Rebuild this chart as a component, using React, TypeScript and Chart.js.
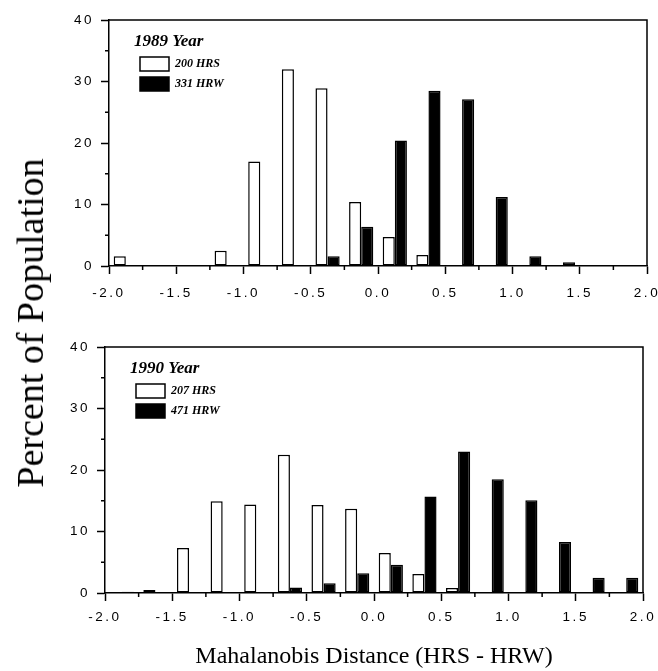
import React, { useEffect, useRef } from 'react';
import { Chart, registerables } from 'chart.js';

Chart.register(...registerables);

// ---- data ----
const binCenters = [-1.875, -1.625, -1.375, -1.125, -0.875, -0.625, -0.375, -0.125, 0.125, 0.375, 0.625, 0.875, 1.125, 1.375, 1.625, 1.875];
const hrs1989 = [1.6, 0, 0, 2.5, 17.0, 32.0, 28.9, 10.4, 4.7, 1.8, 0, 0, 0, 0, 0, 0];
const hrw1989 = [0, 0, 0, 0, 0.1, 0, 1.6, 6.4, 20.4, 28.5, 27.1, 11.2, 1.6, 0.6, 0, 0.15];
const hrs1990 = [0, 0.5, 7.3, 14.9, 14.4, 22.5, 14.3, 13.7, 6.5, 3.1, 0.8, 0, 0, 0, 0, 0];
const hrw1990 = [0.2, 0, 0, 0, 0, 0.9, 1.6, 3.2, 4.6, 15.7, 23.0, 18.5, 15.1, 8.3, 2.5, 2.5];

const xMin = -2;
const xMax = 2;
const xStep = 0.5;
const xMinorTicks = [-1.75, -1.25, -0.75, -0.25, 0.25, 0.75, 1.25, 1.75];
const yMin = 0;
const yMax = 40;
const yStep = 10;
const yMinorTicks = [5, 15, 25, 35];

const title1989 = '1989 Year';
const labels1989 = ['200 HRS', '331 HRW'];
const title1990 = '1990 Year';
const labels1990 = ['207 HRS', '471 HRW'];
const yTitle = 'Percent of Population';
const xTitle = 'Mahalanobis Distance (HRS - HRW)';

// ---- plugins ----
const framePlugin = {
  id: 'frameTicks',
  beforeDraw(chart: any) {
    chart.ctx.letterSpacing = '0px';
  },
  afterDatasetsDraw(chart: any) {
    chart.ctx.letterSpacing = '2.5px';
  },
  afterDraw(chart: any) {
    const ctx = chart.ctx;
    ctx.letterSpacing = '0px';
    const { left, right, top, bottom } = chart.chartArea;
    const xs = chart.scales.x;
    const ys = chart.scales.y;
    ctx.save();
    ctx.strokeStyle = '#000';
    ctx.lineWidth = 1.5;
    ctx.beginPath();
    ctx.moveTo(left, top);
    ctx.lineTo(right, top);
    ctx.lineTo(right, bottom);
    xMinorTicks.forEach((v) => {
      const px = xs.getPixelForValue(v);
      ctx.moveTo(px, bottom);
      ctx.lineTo(px, bottom + 4);
    });
    yMinorTicks.forEach((v) => {
      const py = ys.getPixelForValue(v);
      ctx.moveTo(left - 4, py);
      ctx.lineTo(left, py);
    });
    ctx.stroke();
    ctx.restore();
  },
};

const legendShift = {
  id: 'legendShift',
  afterLayout(chart: any, _args: any, opts: any) {
    const lg = chart.legend;
    if (!lg) return;
    const w = lg.width;
    const h = lg.height;
    lg.left = chart.chartArea.left + (opts.dx || 0);
    lg.top = chart.chartArea.top + (opts.dy || 0);
    lg.right = lg.left + w;
    lg.bottom = lg.top + h;
  },
};

function makeConfig(hrs: number[], hrw: number[], labels: string[], title: string, bottom: boolean) {
  const xTickFont = { family: 'Liberation Sans', size: 13.5, lineHeight: bottom ? 2.37 : 2.81 };
  const yTickFont = { family: 'Liberation Sans', size: 13.5 };
  return {
    type: 'bar',
    data: {
      datasets: [
        {
          label: labels[0],
          data: binCenters.map((x, i) => ({ x, y: hrs[i] })),
          backgroundColor: '#ffffff',
          borderColor: '#000000',
          borderWidth: 1.5,
          borderSkipped: false,
          categoryPercentage: 0.72,
          barPercentage: 1.0,
        },
        {
          label: labels[1],
          data: binCenters.map((x, i) => ({ x, y: hrw[i] })),
          backgroundColor: '#000000',
          borderColor: '#000000',
          borderWidth: 1.5,
          borderSkipped: false,
          categoryPercentage: 0.72,
          barPercentage: 1.0,
        },
      ],
    },
    options: {
      responsive: false,
      animation: false,
      events: [],
      layout: {
        padding: bottom ? { top: 27, right: 15, left: 0, bottom: 0 } : { top: 20, right: 11, left: 0, bottom: 0 },
      },
      scales: {
        x: {
          type: 'linear',
          min: xMin,
          max: xMax,
          offset: false,
          afterFit: (s: any) => { s.height = bottom ? 78 : 54; },
          ticks: {
            stepSize: xStep,
            autoSkip: false,
            maxRotation: 0,
            padding: 0,
            font: xTickFont,
            color: '#000',
            z: 1,
            callback: (v: any) => Number(v).toFixed(1),
          },
          grid: { display: true, drawOnChartArea: false, drawTicks: true, tickLength: 8, tickColor: '#000', tickWidth: 1.5, offset: false },
          border: { display: true, color: '#000', width: 1.5 },
          title: bottom
            ? { display: true, text: xTitle, color: '#000', font: { family: 'Liberation Serif', size: 24, lineHeight: 1 }, padding: { top: 0, bottom: 2 } }
            : { display: false },
        },
        y: {
          type: 'linear',
          min: yMin,
          max: yMax,
          afterFit: (s: any) => { s.width = bottom ? 105 : 109; },
          ticks: {
            stepSize: yStep,
            padding: 7,
            font: yTickFont,
            color: '#000',
            z: 1,
          },
          grid: { display: true, drawOnChartArea: false, drawTicks: true, tickLength: 8, tickColor: '#000', tickWidth: 1.5 },
          border: { display: true, color: '#000', width: 1.5 },
        },
      },
      plugins: {
        tooltip: { enabled: false },
        legendShift: { dx: 25, dy: 13 },
        legend: {
          position: 'chartArea',
          align: 'start',
          title: {
            display: true,
            text: title,
            position: 'start',
            color: '#000',
            font: { family: 'Liberation Serif', size: 17, style: 'italic', weight: 'bold', lineHeight: 1 },
            padding: { top: 0, bottom: 1 },
          },
          labels: {
            boxWidth: 29,
            boxHeight: 14,
            padding: 6,
            color: '#000',
            font: { family: 'Liberation Serif', size: 12, style: 'italic', weight: 'bold' },
          },
        },
      },
    },
    plugins: [framePlugin, legendShift],
  } as any;
}

export default function App() {
  const topRef = useRef<HTMLCanvasElement | null>(null);
  const botRef = useRef<HTMLCanvasElement | null>(null);

  useEffect(() => {
    const c1 = new Chart(topRef.current as HTMLCanvasElement, makeConfig(hrs1989, hrw1989, labels1989, title1989, false));
    const c2 = new Chart(botRef.current as HTMLCanvasElement, makeConfig(hrs1990, hrw1990, labels1990, title1990, true));
    return () => {
      c1.destroy();
      c2.destroy();
    };
  }, []);

  return (
    <div style={{ position: 'absolute', left: 0, top: 0, width: 658, height: 671, background: '#fff', overflow: 'hidden' }}>
      <canvas ref={topRef} width={658} height={320} style={{ position: 'absolute', left: 0, top: 0, width: 658, height: 320 }} />
      <canvas ref={botRef} width={658} height={351} style={{ position: 'absolute', left: 0, top: 320, width: 658, height: 351 }} />
      <div
        style={{
          position: 'absolute',
          left: 30,
          top: 323,
          transform: 'translate(-50%, -50%) rotate(-90deg)',
          whiteSpace: 'nowrap',
          fontFamily: '"Liberation Serif", serif',
          fontSize: 38,
          lineHeight: 1,
          color: '#000',
        }}
      >
        {yTitle}
      </div>
    </div>
  );
}
